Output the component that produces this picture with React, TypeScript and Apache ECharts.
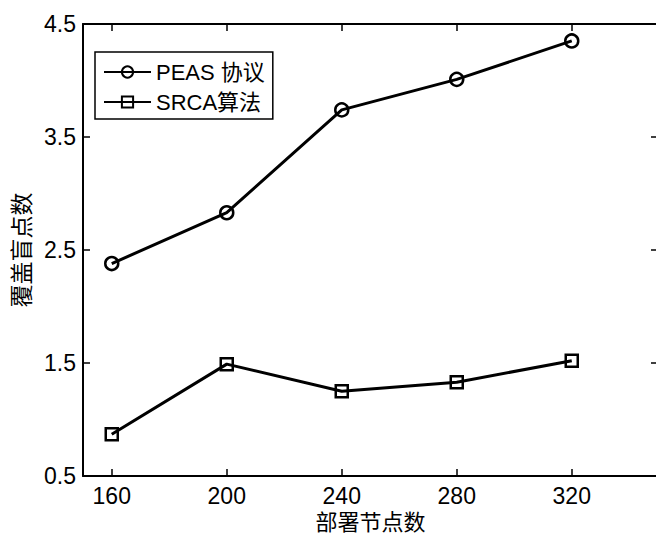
import React, { useEffect, useRef } from "react";
import * as echarts from "echarts";

const nodeCounts = [160, 200, 240, 280, 320];
const peasValues = [2.38, 2.83, 3.74, 4.01, 4.35];
const srcaValues = [0.87, 1.49, 1.25, 1.33, 1.52];
const yTicks = [0.5, 1.5, 2.5, 3.5, 4.5];
const seriesNames = ["PEAS 协议", "SRCA算法"];
const xTitle = "部署节点数";
const yTitle = "覆盖盲点数";

const FONT = "'Liberation Sans', 'Noto Sans CJK SC', Arial, sans-serif";

export default function App() {
  const ref = useRef<HTMLDivElement>(null);
  useEffect(() => {
    if (!ref.current) return;
    const chart = echarts.init(ref.current, null, { renderer: "svg" });
    const axisLine = { show: true, lineStyle: { color: "#000", width: 2 } };
    const tick = (vals: number[]) => ({
      show: true,
      inside: true,
      length: 7,
      customValues: vals,
      lineStyle: { color: "#000", width: 1.5 },
    });
    const mk = (name: string, vals: number[], symbol: string) => ({
      type: "line",
      name,
      data: nodeCounts.map((x, i) => [x, vals[i]]),
      symbol,
      symbolSize: symbol === "circle" ? 13 : 12,
      showSymbol: true,
      lineStyle: { color: "#000", width: 3 },
      itemStyle: { color: "transparent", borderColor: "#000", borderWidth: 2.5 },
      emphasis: { disabled: true },
      clip: false,
    });
    chart.setOption({
      animation: false,
      backgroundColor: "#fff",
      textStyle: { fontFamily: FONT },
      grid: { left: 83, top: 24, right: 12, bottom: 57, outerBoundsMode: "none" },
      legend: {
        show: true,
        left: 95,
        top: 52,
        orient: "vertical",
        data: seriesNames,
        itemWidth: 47,
        itemHeight: 14,
        itemGap: 8,
        padding: [9, 8, 6, 8],
        borderColor: "#000",
        borderWidth: 1.5,
        backgroundColor: "#fff",
        textStyle: { fontSize: 22, color: "#000", fontFamily: FONT, lineHeight: 22 },
      },
      xAxis: [
        {
          type: "value",
          min: 150,
          max: 350,
          position: "bottom",
          axisLine,
          axisTick: tick(nodeCounts),
          axisLabel: {
            customValues: nodeCounts,
            color: "#000",
            fontSize: 23,
            margin: 8,
            fontFamily: FONT,
          },
          splitLine: { show: false },
          name: xTitle,
          nameLocation: "middle",
          nameGap: 25,
          nameTextStyle: { fontSize: 22, lineHeight: 22, color: "#000", fontFamily: FONT },
        },
        {
          type: "value",
          min: 150,
          max: 350,
          position: "top",
          axisLine,
          axisTick: tick(nodeCounts),
          axisLabel: { show: false },
          splitLine: { show: false },
        },
      ],
      yAxis: [
        {
          type: "value",
          min: 0.5,
          max: 4.5,
          position: "left",
          axisLine,
          axisTick: tick(yTicks),
          axisLabel: {
            customValues: yTicks,
            formatter: (v: number) => v.toFixed(1),
            color: "#000",
            fontSize: 23,
            margin: 7,
            fontFamily: FONT,
          },
          splitLine: { show: false },
          name: yTitle,
          nameLocation: "middle",
          nameGap: 49,
          nameRotate: 90,
          nameTextStyle: { fontSize: 23, color: "#000", fontFamily: FONT },
        },
        {
          type: "value",
          min: 0.5,
          max: 4.5,
          position: "right",
          axisLine: { show: false },
          axisTick: tick(yTicks),
          axisLabel: { show: false },
          splitLine: { show: false },
        },
      ],
      series: [mk(seriesNames[0], peasValues, "circle"), mk(seriesNames[1], srcaValues, "rect")],
    });
    return () => chart.dispose();
  }, []);
  return (
    <div
      style={{
        position: "absolute",
        left: 0,
        top: 0,
        width: 656,
        height: 533,
        overflow: "hidden",
        background: "#fff",
      }}
    >
      <div ref={ref} style={{ width: 670, height: 533 }} />
    </div>
  );
}
